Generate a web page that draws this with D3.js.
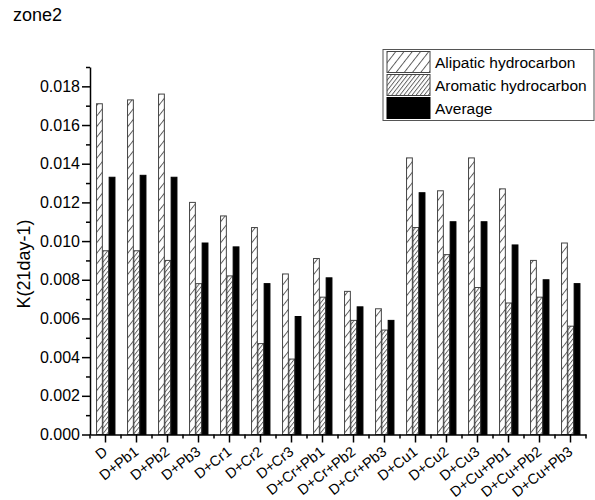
<!DOCTYPE html>
<html lang="en">
<head>
<meta charset="utf-8">
<title>zone2</title>
<script src="https://d3js.org/d3.v7.min.js"></script>
<style>
  body { margin: 0; background: #fff; }
  svg text { font-family: "Liberation Sans", Arial, sans-serif; fill: #000; }
  .axis path, .axis line { stroke: #000; stroke-width: 1.5px; }
</style>
</head>
<body>
<div id="chart"></div>
<script>
// categories along the x axis
const categories = ["D", "D+Pb1", "D+Pb2", "D+Pb3", "D+Cr1", "D+Cr2", "D+Cr3",
  "D+Cr+Pb1", "D+Cr+Pb2", "D+Cr+Pb3", "D+Cu1", "D+Cu2", "D+Cu3",
  "D+Cu+Pb1", "D+Cu+Pb2", "D+Cu+Pb3"]

// K values
const alipatic = [0.0171, 0.0173, 0.0176, 0.0120, 0.0113, 0.0107, 0.0083,
  0.0091, 0.0074, 0.0065, 0.0143, 0.0126, 0.0143, 0.0127, 0.0090, 0.0099]
const aromatic = [0.0095, 0.0095, 0.0090, 0.0078, 0.0082, 0.0047, 0.0039,
  0.0071, 0.0059, 0.0054, 0.0107, 0.0093, 0.0076, 0.0068, 0.0071, 0.0056]
const average = [0.0133, 0.0134, 0.0133, 0.0099, 0.0097, 0.0078, 0.0061,
  0.0081, 0.0066, 0.0059, 0.0125, 0.0110, 0.0110, 0.0098, 0.0080, 0.0078]

const seriesNames = ["Alipatic hydrocarbon", "Aromatic hydrocarbon", "Average"]
const yMajorTicks = [0, 0.002, 0.004, 0.006, 0.008, 0.010, 0.012, 0.014, 0.016, 0.018]
const yMinorTicks = [0.001, 0.003, 0.005, 0.007, 0.009, 0.011, 0.013, 0.015, 0.017, 0.019]

const width = 595
const height = 500
const plot = { left: 90, right: 586, top: 67, bottom: 434.5 }

const series = [alipatic, aromatic, average]
const table = categories.map((c, i) => ({
  name: c,
  values: series.map((s, j) => ({ key: seriesNames[j], value: s[i] }))
}))

const svg = d3.select("#chart").append("svg")
  .attr("width", width)
  .attr("height", height)

// hatch patterns
const defs = svg.append("defs")
function hatch(id, gap) {
  const p = defs.append("pattern")
    .attr("id", id)
    .attr("patternUnits", "userSpaceOnUse")
    .attr("width", gap)
    .attr("height", 10)
    .attr("patternTransform", "rotate(38)")
  p.append("rect").attr("width", gap).attr("height", 10).attr("fill", "#fff")
  p.append("line")
    .attr("x1", 0.5).attr("x2", 0.5).attr("y1", 0).attr("y2", 10)
    .attr("stroke", "#333").attr("stroke-width", 0.8)
}
hatch("hatchWide", 6.5)
hatch("hatchDense", 3.2)

const fills = d3.scaleOrdinal()
  .domain(seriesNames)
  .range(["url(#hatchWide)", "url(#hatchDense)", "#000"])
const strokes = d3.scaleOrdinal()
  .domain(seriesNames)
  .range(["#444", "#444", "#000"])

const x = d3.scaleBand()
  .domain(categories)
  .range([plot.left, plot.right])
  .paddingInner(0.39)
  .paddingOuter(0.195)

const xCell = d3.scaleBand()
  .domain(categories)
  .range([plot.left, plot.right])

const xs = d3.scaleBand()
  .domain(seriesNames)
  .range([0, x.bandwidth()])

const y = d3.scaleLinear()
  .domain([0, 0.019])
  .range([plot.bottom, plot.top])

// bars
svg.append("g").selectAll("g")
  .data(table)
  .enter().append("g")
  .attr("transform", d => "translate(" + x(d.name) + ",0)")
  .selectAll("rect")
  .data(d => d.values)
  .enter().append("rect")
  .attr("x", d => xs(d.key) + 0.5)
  .attr("width", xs.bandwidth() - 0.5)
  .attr("y", d => y(d.value))
  .attr("height", d => y(0) - y(d.value))
  .attr("fill", d => fills(d.key))
  .attr("stroke", d => strokes(d.key))
  .attr("stroke-width", 1)

// y axis
svg.append("g")
  .attr("class", "axis")
  .attr("transform", "translate(" + plot.left + ",0)")
  .call(d3.axisLeft(y).tickValues(yMajorTicks).tickSize(8).tickSizeOuter(0)
    .tickPadding(2).tickFormat(d3.format(".3f")))
  .call(g => g.selectAll("text").style("font-size", "16px"))

svg.append("g")
  .attr("class", "axis")
  .attr("transform", "translate(" + plot.left + ",0)")
  .call(d3.axisLeft(y).tickValues(yMinorTicks).tickSize(4).tickFormat(""))
  .call(g => g.select(".domain").remove())

// x axis
svg.append("g")
  .attr("class", "axis")
  .attr("transform", "translate(0," + plot.bottom + ")")
  .call(d3.axisBottom(x).tickSize(8).tickSizeOuter(0))
  .call(g => g.selectAll("text")
    .style("font-size", "14.5px")
    .attr("text-anchor", "end")
    .attr("dy", null)
    .attr("y", null)
    .attr("transform", "translate(3,19) rotate(-38)"))

// minor ticks on x at the cell edges
const edges = categories.map(c => xCell(c)).concat([xCell.range()[1]])
svg.append("g")
  .selectAll("line")
  .data(edges)
  .enter().append("line")
  .attr("x1", d => d).attr("x2", d => d)
  .attr("y1", plot.bottom).attr("y2", plot.bottom + 4)
  .attr("stroke", "#000").attr("stroke-width", 1.5)

// titles
svg.append("text")
  .attr("x", 13)
  .attr("y", 21)
  .style("font-size", "18px")
  .text("zone2")

svg.append("text")
  .attr("transform", "translate(30,264) rotate(-90)")
  .attr("text-anchor", "middle")
  .style("font-size", "18px")
  .text("K(21day-1)")

// legend
const legend = svg.append("g")
legend.append("rect")
  .attr("x", 383).attr("y", 49.5)
  .attr("width", 211).attr("height", 71)
  .attr("fill", "#fff").attr("stroke", "#555").attr("stroke-width", 1)

const rows = legend.selectAll("g.row")
  .data(seriesNames)
  .enter().append("g")
  .attr("class", "row")
  .attr("transform", (d, i) => "translate(387," + (51.5 + i * 23) + ")")

rows.append("rect")
  .attr("width", 43).attr("height", 21)
  .attr("fill", d => fills(d))
  .attr("stroke", d => strokes(d))
  .attr("stroke-width", 1)

rows.append("text")
  .attr("x", 48)
  .attr("y", 16)
  .style("font-size", "15.5px")
  .text(d => d)
</script>
</body>
</html>
